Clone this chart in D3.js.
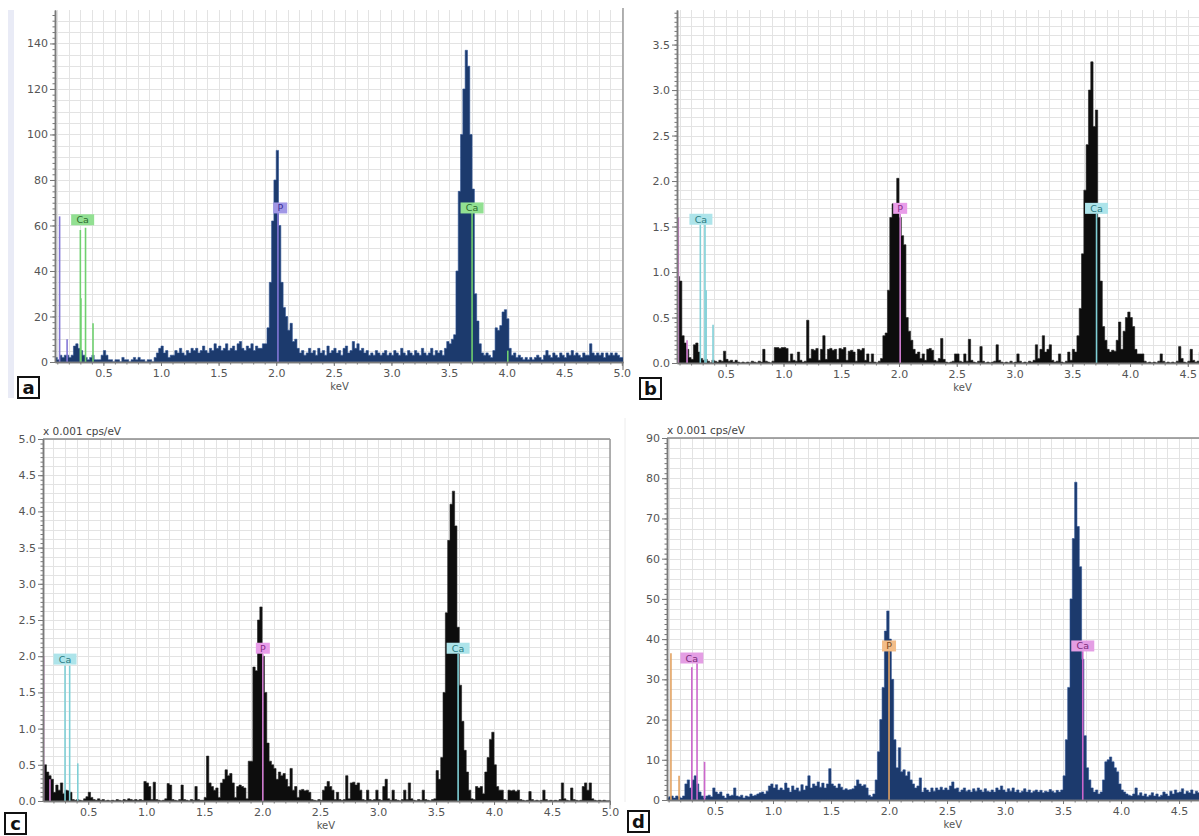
<!DOCTYPE html>
<html>
<head>
<meta charset="utf-8">
<script src="https://cdn.jsdelivr.net/npm/d3@7"></script>
<style>
  body { margin: 0; background: #fff; }
  svg text { font-family: "DejaVu Sans", Verdana, sans-serif; }
</style>
</head>
<body>
<svg id="fig" width="1199" height="836"></svg>
<script>
/*************************************************************************/
// spectra: one value every 0.02 keV starting at 0.08 keV

var keVStart = 0.08, keVStep = 0.02;

var countsA = [
  2,1,3,2,3,3,2,3,7,8,          6,5,3,2,1,2,3,1,1,1,
  3,5,3,1,1,0,1,1,0,2,          1,1,0,1,2,1,2,1,1,0,
  1,1,0,2,4,6,7,4,5,2,          3,3,5,4,6,4,3,5,4,6,
  5,6,4,5,7,5,4,6,5,8,          6,7,5,6,8,5,6,7,5,8,
  9,6,5,7,6,8,5,7,6,6,          8,8,15,35,62,80,93,60,35,24,
  20,14,17,9,10,6,4,5,3,4,      6,4,5,3,6,4,5,3,7,4,
  5,6,4,5,3,6,7,4,5,9,          6,8,5,6,4,5,3,4,3,5,
  4,3,4,5,3,4,3,5,4,3,          6,4,3,5,4,3,5,4,3,6,
  4,3,4,6,3,5,4,5,3,6,          9,8,10,12,40,75,100,120,137,130,
  100,76,30,18,8,4,3,4,3,2,     5,15,14,16,22,23,19,6,3,4,
  2,3,2,1,2,1,2,1,2,3,          2,1,3,5,3,2,4,3,2,4,
  3,2,4,3,5,3,4,3,2,4,          3,3,8,4,3,4,3,4,2,4,
  3,4,3,4,3,2,2
];

var countsB = [
  0.95,0.9,0.3,0.22,0.15,0.06,0.04,0.2,0.22,0.12,   0.05,0.03,0.04,0.02,0,0.03,0.02,0.01,0.03,0.02,
  0.13,0.04,0.02,0.03,0.01,0.03,0.01,0,0.01,0,      0.01,0,0.02,0.01,0,0.02,0.01,0.15,0.02,0.01,
  0,0.02,0.17,0.17,0.16,0.17,0.17,0.16,0.02,0.1,    0.03,0.02,0.12,0.03,0.01,0.02,0.47,0.05,0.15,0.14,
  0.16,0.03,0.15,0.3,0.04,0.15,0.16,0.14,0.15,0.04, 0.16,0.15,0.17,0.03,0.13,0.14,0.12,0.02,0.15,0.14,
  0.16,0.03,0.1,0.01,0.1,0.01,0,0.02,0.05,0.3,      0.33,0.8,1.6,1.75,1.65,2.03,1.6,1.4,1.3,0.5,
  0.35,0.25,0.15,0.1,0.12,0.05,0.1,0.03,0.15,0.16,  0.14,0.03,0.02,0.05,0.27,0.04,0.01,0,0.01,0.02,
  0.1,0.1,0.02,0.01,0.1,0.02,0.26,0.03,0.01,0,      0.02,0.18,0.02,0,0.01,0,0.01,0.02,0.2,0.03,
  0.01,0,0.01,0,0.02,0,0.01,0.1,0.02,0,             0.01,0,0.02,0.01,0.03,0.2,0.05,0.15,0.3,0.12,
  0.15,0.2,0.03,0.01,0.02,0.1,0.01,0,0.02,0.12,     0.03,0.15,0.12,0.3,0.6,1.2,1.9,2.4,3.0,3.31,
  2.6,2.78,1.6,0.9,0.4,0.25,0.15,0.12,0.14,0.13,    0.25,0.45,0.15,0.35,0.5,0.56,0.5,0.4,0.15,0.1,
  0.1,0.1,0.02,0,0.01,0,0.01,0,0.02,0.1,            0.02,0,0.01,0,0.01,0,0.02,0.18,0.05,0.01,
  0,0.02,0.15,0.03,0.01,0.02,0.12,0.02
];

var countsC = [
  0.5,0.5,0.5,0.4,0.35,0.3,0.12,0.22,0.15,0.25,     0.1,0.15,0.14,0.12,0.02,0.01,0.02,0.01,0,0.03,
  0.06,0.12,0.05,0.02,0.01,0.03,0.01,0.02,0,0.01,   0,0.01,0,0.02,0.01,0,0.02,0.01,0.03,0.02,
  0.01,0.02,0.01,0.02,0.01,0.27,0.25,0.2,0.02,0.26, 0.02,0.01,0,0.01,0.03,0.24,0.22,0.02,0.01,0,
  0.02,0.22,0.02,0.01,0,0.02,0.01,0.2,0.02,0.01,    0.01,0.05,0.62,0.25,0.2,0.15,0.18,0.05,0.25,0.3,
  0.43,0.35,0.38,0.25,0.05,0.2,0.22,0.2,0.18,0.03,  0.55,0.55,1.85,1.8,2.5,2.68,2.0,1.5,0.8,0.55,
  0.5,0.45,0.3,0.4,0.35,0.38,0.3,0.2,0.45,0.15,     0.2,0.05,0.15,0.16,0.14,0.15,0.12,0.02,0.01,0,
  0.02,0.01,0.15,0.2,0.27,0.2,0.15,0.02,0.12,0.02,  0.01,0.02,0.35,0.03,0.25,0.26,0.22,0.25,0.15,0.02,
  0.01,0.15,0.02,0.01,0.02,0.15,0.02,0.01,0.2,0.3,  0.03,0.01,0.15,0.02,0.01,0,0.02,0.15,0.02,0.25,
  0.03,0.01,0,0.02,0.01,0.15,0.02,0.01,0,0.02,      0.03,0.42,0.3,0.6,1.5,2.6,3.6,4.1,4.28,3.8,
  2.4,1.6,1.1,0.7,0.4,0.15,0.03,0.02,0.2,0.18,      0.2,0.1,0.4,0.6,0.85,0.95,0.5,0.2,0.15,0.15,
  0.02,0.01,0.15,0.14,0.15,0.13,0.15,0.02,0.01,0,   0.01,0.13,0.02,0,0.01,0,0.01,0.15,0.02,0,
  0.01,0,0.01,0,0.02,0.25,0.03,0.01,0,0.18,         0.02,0.01,0,0.01,0.2,0.25,0.15,0.25,0.03,0.01,
  0,0.01,0,0.01,0,0,0
];

var countsD = [
  0.5,0.8,1,0.5,1,0.8,0.5,1,4,5,                3,5,6,4,2,1,0.5,1,1.2,0.8,
  3,2,1.5,2,1,0.5,1.5,1,1.2,3,                  1,0.8,1.2,0.5,1,0.8,1.5,1,1.2,1.5,
  1.8,2,1.5,2.2,3.5,4,3,3.8,2.5,3,              2.5,4.2,3,2,3.5,2.5,3,2.2,3.8,2.5,
  3.5,6,3,4,3.5,4.5,3.2,4.2,3,4,                7.8,4,3.5,3,4,3.2,2.5,2.8,2.5,2.6,
  2.8,3.5,5,4,3.5,3.8,3,1.2,0.8,1.5,            5,12,20,28,42,47,40,30,15,8,
  13,7,7.5,6,7,5,4,3,3.5,5.5,                   2,3,2.5,2,3,2.2,3,2.5,3.2,2.5,
  3,2.5,3.5,4.5,2.8,3,2,2.5,3,2.2,              2.5,2,2.8,2.2,3,2.5,2,2.8,2.2,2,
  2.5,2,3,2.5,3.5,2.5,2,2.8,2.2,3,              2,2.5,1.8,2.2,2.8,2,2.5,1.8,2.2,2.5,
  2,2.4,1.8,2.2,2,2.6,2.2,1.8,2.4,2,            2.5,6,15,28,50,65,79,68,58,35,
  16,8,5,3,2,2.5,1.5,2,5,9.5,                   10,10.7,9.5,8,7,4,2.5,2,1.5,1.2,
  1,1.5,3,1.2,1.8,1,1.5,0.8,1.2,1.8,            1,1.5,0.8,1.2,2,1.5,1,2.2,1.5,2.5,
  1.8,2,2.8,1.5,2.2,1.8,2.5,1.5,2.2,1.8
];

// element lines (keV, height in counts) and their labels (keV, level)
var markersA = [ ['P',0.12,64], ['P',0.185,10], ['Ca',0.30,58], ['Ca',0.305,28], ['Ca',0.345,59], ['Ca',0.41,17], ['P',2.015,67], ['Ca',3.70,67], ['Ca',4.01,5] ];
var labelsA  = [ ['Ca',0.32,62.5], ['P',2.035,67.7], ['Ca',3.70,67.7] ];

var markersB = [ ['P',0.09,1.6], ['P',0.165,0.25], ['Ca',0.28,1.52], ['Ca',0.32,1.52], ['Ca',0.33,0.8], ['Ca',0.39,0.42], ['P',2.01,1.64], ['Ca',3.71,1.64] ];
var labelsB  = [ ['Ca',0.285,1.58], ['P',2.01,1.70], ['Ca',3.71,1.70] ];

var markersC = [ ['P',0.115,2.0], ['P',0.17,0.3], ['Ca',0.30,1.87], ['Ca',0.34,1.87], ['Ca',0.41,0.52], ['P',2.006,2.03], ['Ca',3.69,2.03] ];
var labelsC  = [ ['Ca',0.30,1.96], ['P',2.006,2.11], ['Ca',3.69,2.11] ];

var markersD = [ ['P',0.12,36.5], ['P',0.19,6], ['Ca',0.30,33], ['Ca',0.345,34], ['Ca',0.41,9.5], ['P',2.00,37], ['Ca',3.67,37] ];
var labelsD  = [ ['Ca',0.30,35.3], ['P',2.00,38.3], ['Ca',3.67,38.3] ];

// ticks
var xTicksAC = [0.5,1.0,1.5,2.0,2.5,3.0,3.5,4.0,4.5,5.0];
var xTicksBD = [0.5,1.0,1.5,2.0,2.5,3.0,3.5,4.0,4.5];
var yTicksA = [0,20,40,60,80,100,120,140];
var yTicksB = [0.0,0.5,1.0,1.5,2.0,2.5,3.0,3.5];
var yTicksC = [0.0,0.5,1.0,1.5,2.0,2.5,3.0,3.5,4.0,4.5,5.0];
var yTicksD = [0,10,20,30,40,50,60,70,80,90];

var unitText = 'x 0.001 cps/eV';

/*************************************************************************/

var palette1 = { P:  { line:'#8377d6', box:'#a197e6', text:'#3b2e96' },
                 Ca: { line:'#6fd06f', box:'#92e092', text:'#2d6a2d' } };
var palette2 = { P:  { line:'#d57fd5', box:'#e99de9', text:'#8a2a8a' },
                 Ca: { line:'#7fcfd6', box:'#ade4ea', text:'#287a80' } };
var palette3 = { P:  { line:'#e2a262', box:'#f3bd88', text:'#7a4a1a' },
                 Ca: { line:'#cc66cc', box:'#e49ee4', text:'#7a2a7a' } };

/*************************************************************************/

function Panel(cfg){
    this.cfg = cfg;
    this.svg = d3.select('#fig');
    this.create();
}

/*************************************************************************/

Panel.prototype.create = function(){
    var c = this.cfg;
    this.g = this.svg.append('g');
    this.x = d3.scaleLinear().domain(c.keV).range([c.left, c.right]);
    this.y = d3.scaleLinear().domain([0, c.yMax]).range([c.bottom, c.top]);
    this.clipId = 'clip-' + c.letter;
    this.svg.append('clipPath').attr('id', this.clipId)
      .append('rect').attr('x', c.left).attr('y', c.top)
      .attr('width', c.right - c.left).attr('height', c.bottom - c.top);

    this.drawGrid();
    this.drawSpectrum();
    this.drawMarkers();
    this.drawAxes();
    this.drawLetter();
}

/*************************************************************************/

Panel.prototype.drawGrid = function(){
    var c = this.cfg, x = this.x, y = this.y;
    var vx = d3.range(1, 51).map(k => k / 10).filter(k => k > c.keV[0] && k < c.keV[1] + 0.001);
    var hy = d3.range(1, Math.floor(c.yMax / c.yGrid + 1e-6) + 1).map(k => k * c.yGrid);
    var grid = this.g.append('g').attr('stroke', '#e3e3e3').attr('stroke-width', 1);
    grid.selectAll('.v').data(vx).join('line')
      .attr('x1', d => Math.round(x(d)) + 0.5).attr('x2', d => Math.round(x(d)) + 0.5)
      .attr('y1', c.top).attr('y2', c.bottom);
    grid.selectAll('.h').data(hy).join('line')
      .attr('x1', c.left).attr('x2', c.right)
      .attr('y1', d => Math.round(y(d)) + 0.5).attr('y2', d => Math.round(y(d)) + 0.5);

    if(c.frameTop){
      this.g.append('line').attr('x1', c.left).attr('x2', c.right)
        .attr('y1', c.top).attr('y2', c.top).attr('stroke', '#8a8a8a').attr('stroke-width', 1.5);
    }
    if(c.frameRight){
      this.g.append('line').attr('x1', c.right).attr('x2', c.right)
        .attr('y1', c.frameRightTop).attr('y2', c.bottom + 8).attr('stroke', '#9a9a9a').attr('stroke-width', 1.5);
    }
}

/*************************************************************************/

Panel.prototype.drawSpectrum = function(){
    var c = this.cfg, x = this.x, y = this.y;
    var pts = c.counts.map((v, i) => [keVStart + i * keVStep, v]);
    pts.push([keVStart + c.counts.length * keVStep, c.counts[c.counts.length - 1]]);

    var area = d3.area()
      .x(d => x(d[0])).y0(y(0)).y1(d => y(d[1]))
      .curve(d3.curveStepAfter);

    this.g.append('path').datum(pts)
      .attr('clip-path', 'url(#' + this.clipId + ')')
      .attr('d', area)
      .attr('fill', c.fill).attr('stroke', c.edge).attr('stroke-width', 0.6);
}

/*************************************************************************/

Panel.prototype.drawMarkers = function(){
    var c = this.cfg, x = this.x, y = this.y, pal = c.palette;
    var m = this.g.append('g').attr('clip-path', 'url(#' + this.clipId + ')');
    m.selectAll('line').data(c.markers).join('line')
      .attr('x1', d => x(d[1])).attr('x2', d => x(d[1]))
      .attr('y1', y(0)).attr('y2', d => y(d[2]))
      .attr('stroke', d => pal[d[0]].line).attr('stroke-width', 1.6);

    var lab = this.g.append('g').selectAll('g').data(c.labels).join('g')
      .attr('transform', d => 'translate(' + x(d[1]) + ',' + y(d[2]) + ')');
    lab.append('rect')
      .attr('x', d => d[0] == 'Ca' ? -11.5 : -7).attr('y', -5.5)
      .attr('width', d => d[0] == 'Ca' ? 23 : 14).attr('height', 11)
      .attr('fill', d => pal[d[0]].box);
    lab.append('text').text(d => d[0])
      .attr('text-anchor', 'middle').attr('y', 3.5)
      .attr('font-size', 9.5).attr('fill', d => pal[d[0]].text);
}

/*************************************************************************/

Panel.prototype.drawAxes = function(){
    var c = this.cfg, x = this.x, y = this.y;
    var fmt = c.yFormat;

    var minorX = d3.range(1, 51).map(k => k / 10).filter(k => k > c.keV[0] && k <= c.keV[1]);
    var xMinor = this.g.append('g').attr('transform', 'translate(0,' + c.bottom + ')')
      .call(d3.axisBottom(x).tickValues(minorX).tickSize(2.5).tickFormat('').tickSizeOuter(0));
    var xMajor = this.g.append('g').attr('transform', 'translate(0,' + c.bottom + ')')
      .call(d3.axisBottom(x).tickValues(c.xTicks).tickSize(4).tickPadding(4).tickFormat(d3.format('.1f')).tickSizeOuter(0));

    var minorY = d3.range(0, Math.floor(c.yMax / c.yMinor + 1e-6) + 1).map(k => k * c.yMinor);
    var yMinor = this.g.append('g').attr('transform', 'translate(' + c.left + ',0)')
      .call(d3.axisLeft(y).tickValues(minorY).tickSize(2.5).tickFormat('').tickSizeOuter(0));
    var yMajor = this.g.append('g').attr('transform', 'translate(' + c.left + ',0)')
      .call(d3.axisLeft(y).tickValues(c.yTicks).tickSize(5).tickPadding(2).tickFormat(fmt).tickSizeOuter(0));

    [xMinor, xMajor, yMinor, yMajor].forEach(a => {
      a.selectAll('.tick line').attr('stroke', '#777');
      a.select('.domain').attr('stroke', '#7a7a7a').attr('stroke-width', 1.5);
      a.selectAll('text').attr('fill', '#555').attr('font-size', 11)
        .attr('font-family', '"DejaVu Sans", Verdana, sans-serif');
    });
    xMajor.selectAll('text').attr('dy', '0.65em');

    this.g.append('text').text('keV')
      .attr('x', x(2.55)).attr('y', c.bottom + 28)
      .attr('text-anchor', 'middle').attr('font-size', 10).attr('fill', '#555');

    if(c.unit){
      this.g.append('text').text(unitText)
        .attr('x', c.left).attr('y', c.top - 4)
        .attr('font-size', 10.5).attr('fill', '#444');
    }
}

/*************************************************************************/

Panel.prototype.drawLetter = function(){
    var c = this.cfg;
    var b = this.g.append('g').attr('transform', 'translate(' + c.letterBox[0] + ',' + c.letterBox[1] + ')');
    b.append('rect').attr('width', 21).attr('height', 21)
      .attr('fill', '#fff').attr('stroke', '#111').attr('stroke-width', 2);
    b.append('text').text(c.letter)
      .attr('x', 10.5).attr('y', 16.5).attr('text-anchor', 'middle')
      .attr('font-family', '"Liberation Sans", Arial, sans-serif')
      .attr('font-weight', 'bold').attr('font-size', 18).attr('fill', '#111');
}

/*************************************************************************/

// faint strip at the far left of panel a
d3.select('#fig').append('rect').attr('x', 8).attr('y', 10).attr('width', 6).attr('height', 388).attr('fill', '#e9ebf6');
// faint divider between c and d
d3.select('#fig').append('line').attr('x1', 625).attr('x2', 625).attr('y1', 418).attr('y2', 802)
  .attr('stroke', '#ececec').attr('stroke-width', 1);

new Panel({ letter:'a', counts: countsA, markers: markersA, labels: labelsA, palette: palette1,
  fill:'#1c3a6d', edge:'#2e5393', keV:[0.08, 5.01], left:55, right:623, top:10, bottom:362,
  yMax:154.7, yGrid:5, yMinor:2.5, yTicks: yTicksA, yFormat: d3.format('d'), xTicks: xTicksAC,
  frameTop:false, frameRight:true, frameRightTop:8, unit:false, letterBox:[18,377] });

new Panel({ letter:'b', counts: countsB, markers: markersB, labels: labelsB, palette: palette2,
  fill:'#0d0d0d', edge:'#222', keV:[0.078, 4.597], left:677, right:1199, top:10, bottom:363,
  yMax:3.88, yGrid:0.1, yMinor:0.05, yTicks: yTicksB, yFormat: d3.format('.1f'), xTicks: xTicksBD,
  frameTop:false, frameRight:false, unit:false, letterBox:[640,378] });

new Panel({ letter:'c', counts: countsC, markers: markersC, labels: labelsC, palette: palette2,
  fill:'#0d0d0d', edge:'#222', keV:[0.11, 5.0], left:43, right:610, top:439, bottom:801,
  yMax:5, yGrid:0.125, yMinor:0.0625, yTicks: yTicksC, yFormat: d3.format('.1f'), xTicks: xTicksAC,
  frameTop:true, frameRight:true, frameRightTop:439, unit:true, letterBox:[5,813] });

new Panel({ letter:'d', counts: countsD, markers: markersD, labels: labelsD, palette: palette3,
  fill:'#1c3a6d', edge:'#2e5393', keV:[0.086, 4.672], left:667, right:1199, top:438, bottom:800,
  yMax:90, yGrid:2.5, yMinor:1.25, yTicks: yTicksD, yFormat: d3.format('d'), xTicks: xTicksBD,
  frameTop:true, frameRight:false, unit:true, letterBox:[628,811] });
</script>
</body>
</html>
